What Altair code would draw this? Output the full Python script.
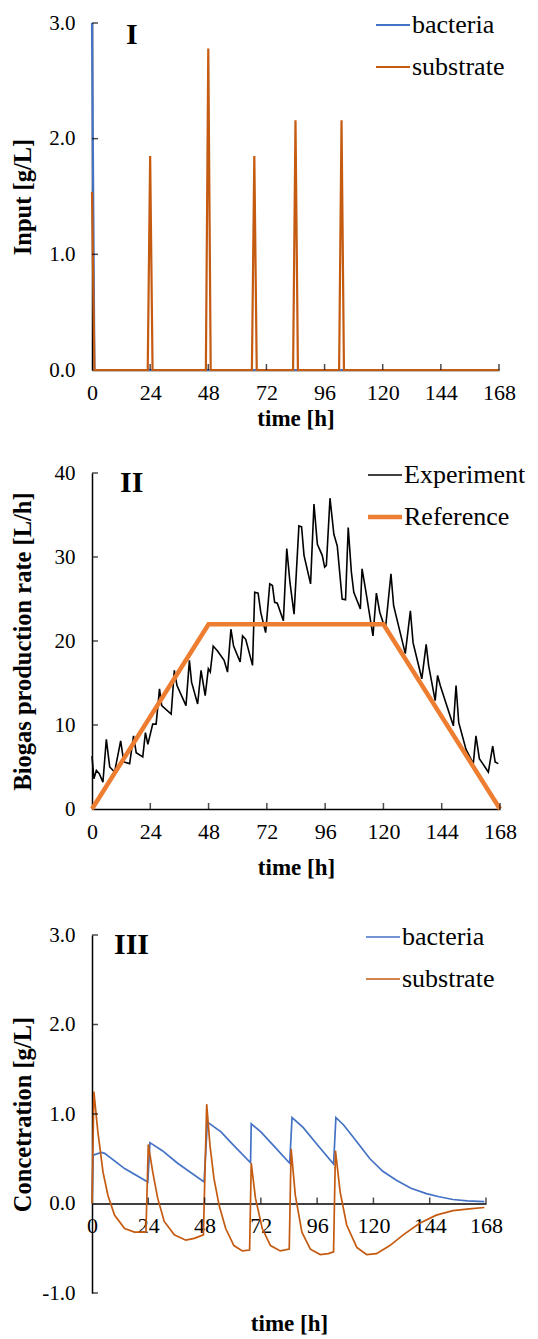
import altair as alt
import pandas as pd

FONT = "Liberation Serif"
BLUE = "#4472C4"
ORANGE = "#C55A11"
ORANGE_REF = "#ED7D31"

x_ticks = [0, 24, 48, 72, 96, 120, 144, 168]

# ---- Panel I : input ----
in_bac_t = [0, 1, 168]
in_bac_v = [3.0, 0.0, 0.0]
in_sub_t = [0, 1, 23, 24, 25, 47, 48, 49, 66, 67, 68, 83, 84, 85, 102, 103, 104, 168]
in_sub_v = [1.54, 0, 0, 1.85, 0, 0, 2.78, 0, 0, 1.85, 0, 0, 2.16, 0, 0, 2.16, 0, 0]
in_y_ticks = [0.0, 1.0, 2.0, 3.0]

# ---- Panel II : biogas ----
exp_t = [0, 0.8, 1.8, 3, 4.5, 5.9, 7.3, 9.3, 11.8, 13.1, 15.5, 17.1, 18.2, 20.9, 22, 23, 25, 26.4,
         27.8, 28.7, 32.6, 33.9, 35, 38.7, 40.1, 41, 43.5, 44.9, 46.6, 47.9, 48.7, 49.9, 51.7, 54.4,
         55.8, 57.2, 58.3, 61, 62, 63.3, 66.1, 67, 68.4, 69.5, 71.5, 73.2, 74.3, 75.2, 76.3, 78.8,
         80.2, 81.5, 83.2, 85.2, 86.3, 87.3, 90, 91.4, 92.8, 94.8, 95.8, 96.5, 98, 99.6, 101, 103,
         104.4, 105.5, 106.8, 107.8, 110.5, 111.2, 112.6, 115.7, 117.1, 118.5, 120.8, 123.1, 124.2,
         129, 131.1, 132.2, 135.8, 137.6, 138.6, 141.3, 142.3, 143.4, 146.1, 148.8, 149.9, 151, 154,
         157, 158.1, 159.5, 163.2, 165, 166, 167.3]
exp_v = [6.3, 3.6, 4.6, 4.2, 3.2, 8.3, 5.0, 4.4, 8.1, 5.6, 5.4, 8.7, 6.7, 6.2, 9.1, 7.7, 10.1, 10.1,
         14.3, 12.3, 11.3, 16.5, 14.7, 12.3, 17.7, 15.1, 12.5, 16.5, 13.5, 16.7, 16.3, 19.4, 18.8, 17.7,
         16.3, 21.4, 19.4, 17.5, 20.6, 20.2, 17.1, 25.8, 25.7, 23.4, 21.0, 26.8, 26.6, 24.6, 24.5, 22.4,
         31.0, 27.0, 23.2, 33.7, 33.6, 30.2, 26.8, 36.3, 31.5, 30.2, 28.8, 29.0, 37.0, 32.7, 31.3, 25.0,
         24.9, 33.5, 28.2, 25.8, 23.8, 28.6, 26.2, 20.6, 25.7, 23.4, 21.4, 28.0, 24.2,
         18.5, 23.6, 19.8, 15.5, 19.6, 17.1, 12.9, 15.9, 14.7, 12.3, 9.9, 14.7, 10.3, 7.1,
         5.4, 8.7, 6.0, 4.4, 7.5, 5.6, 5.4]
ref_t = [0, 48, 120, 168]
ref_v = [0, 22, 22, 0]
bio_y_ticks = [0, 10, 20, 30, 40]

# ---- Panel III : concentration ----
c_bac_t = [0, 0.5, 4, 5.4, 13.9, 23.8, 24.7, 30, 36.5, 47.8, 49.2, 55, 60, 67.6, 67.9, 72, 78, 84.3,
           85.3, 90, 96, 103, 104, 107.2, 112, 118.5, 124, 129.8, 136, 142.6, 148, 153.9, 160, 167.3]
c_bac_v = [0, 0.54, 0.57, 0.56, 0.39, 0.24, 0.68, 0.59, 0.45, 0.24, 0.91, 0.80, 0.66, 0.455, 0.89, 0.80,
           0.63, 0.45, 0.96, 0.85, 0.66, 0.44, 0.96, 0.88, 0.72, 0.50, 0.36, 0.26, 0.17, 0.11, 0.075,
           0.045, 0.03, 0.02]
c_sub_t = [0, 0.8, 2.5, 4.7, 6.8, 9.6, 13.9, 18.1, 23, 24, 25.9, 28, 30.8, 35.1, 40, 43.6, 47.5, 48.9,
           50.3, 52, 54.2, 57, 60.5, 64.1, 67.2, 67.9, 69.7, 72.6, 76.1, 80.3, 84.1, 84.9, 86.7, 89.5,
           93.1, 97.3, 100.8, 103, 103.8, 105.8, 108.6, 112.9, 117.1, 121.3, 127, 132.7, 139.7, 146.8,
           153.9, 160.9, 167.3]
c_sub_v = [0, 1.25, 0.80, 0.35, 0.09, -0.13, -0.28, -0.32, -0.32, 0.66, 0.35, 0.06, -0.2, -0.35, -0.41,
           -0.39, -0.35, 1.11, 0.65, 0.28, -0.02, -0.28, -0.47, -0.53, -0.52, 0.45, 0.06, -0.28, -0.47,
           -0.53, -0.51, 0.61, 0.09, -0.32, -0.51, -0.57, -0.56, -0.54, 0.59, 0.13, -0.24, -0.49, -0.57,
           -0.56, -0.47, -0.35, -0.22, -0.13, -0.08, -0.06, -0.045]
c_y_ticks = [-1.0, 0.0, 1.0, 2.0, 3.0]

names_bs = ["bacteria", "substrate"]
names_er = ["Experiment", "Reference"]


def series(name, t, v):
    return pd.DataFrame({"t": t, "v": v, "series": name, "o": list(range(len(t)))})


def x_axis(title_pad=10, offset=None, title_y=None):
    kw = dict(values=x_ticks, title="time [h]", labelFont=FONT, labelFontSize=22, labelColor="black",
              titleFont=FONT, titleFontSize=23, titleFontWeight="bold", titleColor="black",
              domainColor="black", domainWidth=1.5, ticks=False, grid=False, labelPadding=12,
              titlePadding=title_pad, labelFlush=False, labelOverlap=False)
    if offset is not None:
        kw["offset"] = offset
    if title_y is not None:
        kw["titleY"] = title_y
        kw["titleBaseline"] = "top"
    return alt.Axis(**kw)


def y_axis(title, values, h, fmt=None):
    kw = dict(values=values, title=title, labelFont=FONT, labelFontSize=21, labelColor="black",
              titleFont=FONT, titleFontSize=24.5, titleFontWeight="bold", titleColor="black",
              domainColor="black", domainWidth=1.5, ticks=False, grid=False, labelPadding=17,
              titleX=-57, titleY=h / 2, labelFlush=False, labelOverlap=False)
    if fmt:
        # plain hyphen for negative numbers, as in the original figure
        kw["labelExpr"] = "replace(format(datum.value, '%s'), '\u2212', '-')" % fmt
    return alt.Axis(**kw)


roman_pos = {"I": (34, 12), "II": (28, 10), "III": (22, 10)}


def panel(dfs, colors, widths, ydom, yticks, ytitle, w, h, roman, legend_names, legend_colors,
          legend_widths, legend_x, fmt=None, x_offset=None, x_title_y=None, x_title_pad=10,
          top_room=None):
    xs = alt.Scale(domain=[0, 168], nice=False, zero=False)
    ys = alt.Scale(domain=ydom, nice=False, zero=False)
    xax = x_axis(x_title_pad, x_offset, x_title_y)
    yax = y_axis(ytitle, yticks, h, fmt)
    layers = []
    for df, c, sw in zip(dfs, colors, widths):
        layers.append(alt.Chart(df).mark_line(color=c, strokeWidth=sw, clip=False).encode(
            x=alt.X("t:Q", scale=xs, axis=xax),
            y=alt.Y("v:Q", scale=ys, axis=yax),
            order="o:Q",
        ))
    # inward ticks
    xt = pd.DataFrame({"t": x_ticks[1:]})
    layers.append(alt.Chart(xt).mark_tick(orient="vertical", size=6, thickness=1.5, color="black").encode(
        x=alt.X("t:Q", scale=xs, axis=xax), y=alt.YDatum(0, scale=ys, axis=yax), yOffset=alt.value(-3)))
    yt = pd.DataFrame({"v": [v for v in yticks if v != 0]})
    layers.append(alt.Chart(yt).mark_tick(orient="horizontal", size=6, thickness=1.5, color="black").encode(
        y=alt.Y("v:Q", scale=ys, axis=yax), x=alt.XDatum(0, scale=xs, axis=xax), xOffset=alt.value(3)))
    one = pd.DataFrame({"a": [0]})
    layers.append(alt.Chart(one).mark_text(text=roman, align="left", baseline="middle", font=FONT,
                                           fontWeight="bold", fontSize=30, color="black").encode(
        x=alt.value(roman_pos[roman][0]), y=alt.value(roman_pos[roman][1])))
    # legend
    rows_y = [2, 44]
    for nm, c, sw, yy in zip(legend_names, legend_colors, legend_widths, rows_y):
        layers.append(alt.Chart(one).mark_rule(color=c, strokeWidth=sw).encode(
            x=alt.value(legend_x), x2=alt.value(legend_x + 34), y=alt.value(yy)))
        layers.append(alt.Chart(one).mark_text(text=nm, align="left", baseline="middle", font=FONT,
                                               fontSize=26, color="black").encode(
            x=alt.value(legend_x + 36), y=alt.value(yy)))
    if top_room is not None:
        # invisible spacer that reserves room above the plot in the layout
        layers.append(alt.Chart(one).mark_text(text="|", baseline="middle", fontSize=26, opacity=0).encode(
            x=alt.value(legend_x), y=alt.value(top_room)))
    return alt.layer(*layers).properties(width=w, height=h)


p1 = panel([series("bacteria", in_bac_t, in_bac_v), series("substrate", in_sub_t, in_sub_v)],
           [BLUE, ORANGE], [2.2, 2.2], [0, 3], in_y_ticks, "Input [g/L]", 407, 347, "I",
           names_bs, [BLUE, ORANGE], [2.2, 2.2], 284, fmt=".1f", x_title_pad=4)

p2 = panel([series("Experiment", exp_t, exp_v), series("Reference", ref_t, ref_v)],
           ["black", ORANGE_REF], [1.6, 4.5], [0, 40], bio_y_ticks, "Biogas production rate [L/h]",
           408, 336, "II", names_er, ["black", ORANGE_REF], [1.6, 4.5], 276, x_title_pad=14)

p3 = panel([series("bacteria", c_bac_t, c_bac_v), series("substrate", c_sub_t, c_sub_v)],
           [BLUE, ORANGE], [1.7, 1.7], [-1, 3], c_y_ticks, "Concetration [g/L]", 394, 358, "III",
           names_bs, [BLUE, ORANGE], [1.7, 1.7], 274, fmt=".1f", x_offset=-89.5, x_title_y=109,
           top_room=-11)

chart = alt.vconcat(p1, p2, p3, spacing=32).properties(
    padding={"left": 2, "top": 4, "right": 0, "bottom": 0}, background="white"
).configure_view(stroke=None)

chart.save("out.html", embed_options={"renderer": "svg", "actions": False})
